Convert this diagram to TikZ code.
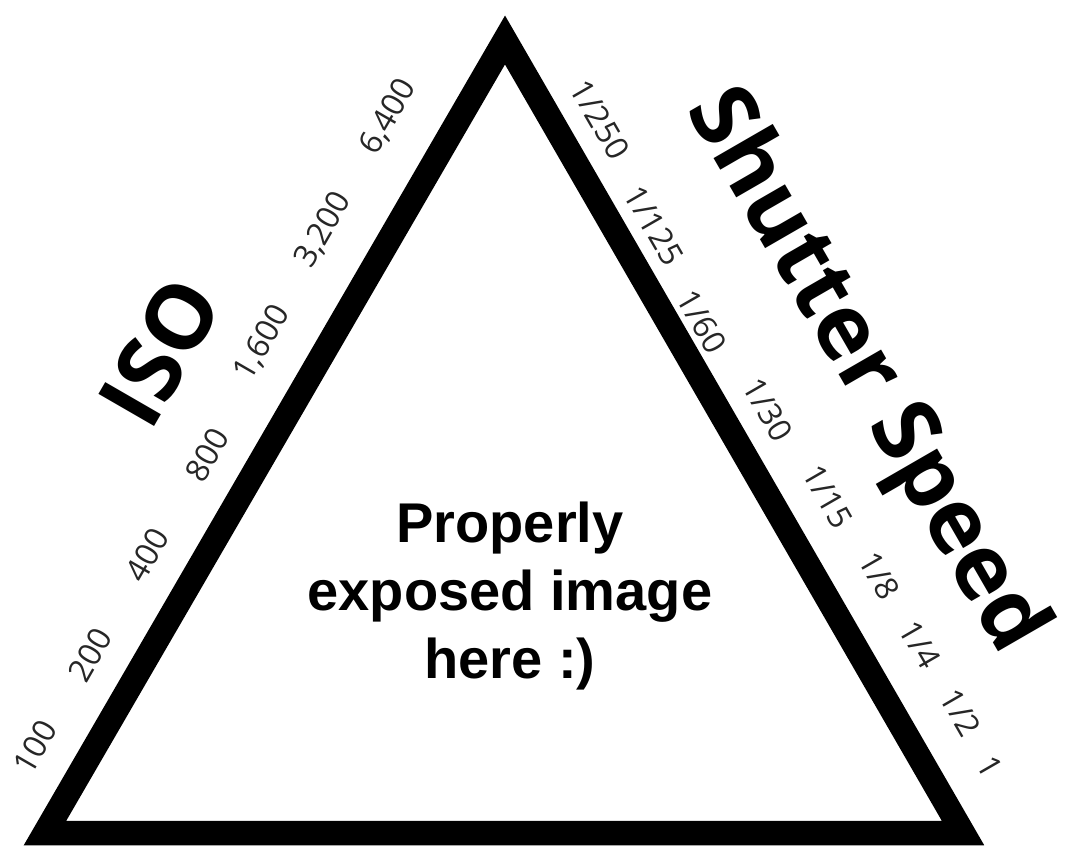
\documentclass[tikz,border=0pt]{standalone}
\usepackage{fontspec}
\setmainfont{Liberation Sans}
\newfontfamily\opensans{Open Sans}
\usetikzlibrary{positioning}

\begin{document}
\begin{tikzpicture}[x=1pt, y=-1pt,
  side/.style={font=\opensans\bfseries\fontsize{90}{90}\selectfont, inner sep=0pt},
  num/.style={font=\opensans\fontsize{32}{32}\selectfont, inner sep=0pt, text=black!85},
  frame/.style={line width=24.5pt, line join=miter}]
  \useasboundingbox (0,0) rectangle (1076,851);
  \coordinate (top) at (505,40);
  \coordinate (bl) at (45,833);
  \coordinate (br) at (963,833);
  \draw[frame] (bl) -- (top) -- (br) -- cycle;
  % ISO side
  \node[side, rotate=60] (iso) at (160,352) {ISO};
  \node[num, rotate=60] (i100) at (35,747) {100};
  \node[num, rotate=60] (i200) at (90,655) {200};
  \node[num, rotate=60] (i400) at (147,555) {400};
  \node[num, rotate=60] (i800) at (207,455) {800};
  \node[num, rotate=60] (i1600) at (262,343) {1,600};
  \node[num, rotate=60] (i3200) at (323,230) {3,200};
  \node[num, rotate=60] (i6400) at (388,117) {6,400};
  % shutter speed side
  \node[side, rotate=-60] (shutter) at (864,372) {Shutter Speed};
  \node[num, rotate=-60] (s250) at (600,120) {1/250};
  \node[num, rotate=-60] (s125) at (654,226) {1/125};
  \node[num, rotate=-60] (s60) at (702,322) {1/60};
  \node[num, rotate=-60] (s30) at (768,410) {1/30};
  \node[num, rotate=-60] (s15) at (828,497) {1/15};
  \node[num, rotate=-60] (s8) at (879,576) {1/8};
  \node[num, rotate=-60] (s4) at (920,645) {1/4};
  \node[num, rotate=-60] (s2) at (961,713) {1/2};
  \node[num, rotate=-60] (s1) at (990,767) {1};
  % middle
  \node[font=\bfseries\fontsize{56}{68}\selectfont, align=center, inner sep=0pt] (msg) at (510,596) {Properly\\exposed image\\here :)};
\end{tikzpicture}
\end{document}
